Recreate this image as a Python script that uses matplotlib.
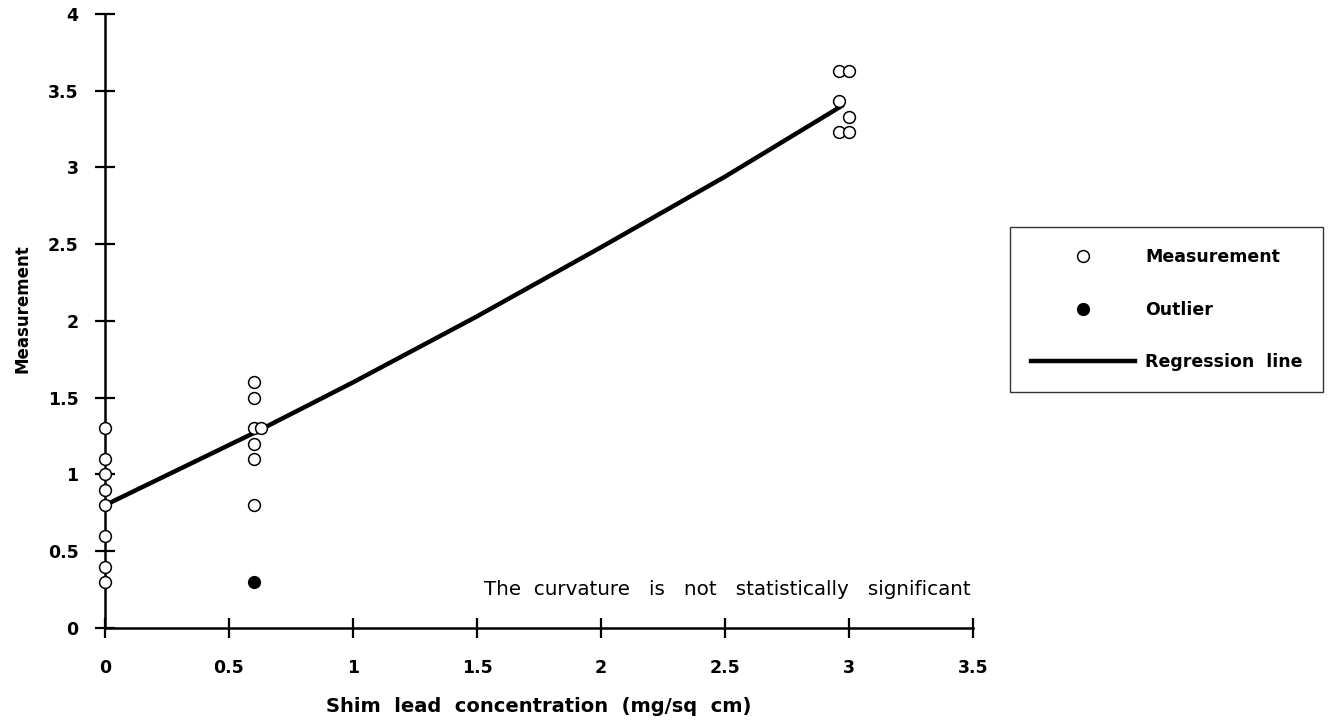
import matplotlib.pyplot as plt

plt.rcParams['font.family'] = ['DejaVu Sans']

# measurements at each shim lead concentration
x_meas = [0, 0, 0, 0, 0, 0, 0, 0,
          0.6, 0.6, 0.6, 0.63, 0.6, 0.6, 0.6,
          2.96, 3.0, 2.96, 3.0, 2.96, 3.0]
y_meas = [1.3, 1.1, 1.0, 0.9, 0.8, 0.6, 0.4, 0.3,
          1.6, 1.5, 1.3, 1.3, 1.2, 1.1, 0.8,
          3.63, 3.63, 3.43, 3.33, 3.23, 3.23]

x_out = [0.6]
y_out = [0.3]

# fitted curve
x_fit = [0, 0.6, 1.0, 1.5, 2.0, 2.5, 2.97]
y_fit = [0.8, 1.27, 1.6, 2.03, 2.48, 2.94, 3.4]

xticks = [0, 0.5, 1, 1.5, 2, 2.5, 3, 3.5]
yticks = [0, 0.5, 1, 1.5, 2, 2.5, 3, 3.5, 4]

fig = plt.figure(figsize=(13.29, 7.28), dpi=100)
ax = fig.add_axes([0.079, 0.1374, 0.6531, 0.8434])

ax.plot(x_fit, y_fit, color='black', lw=3.2, label='Regression  line', zorder=2)
ax.plot(x_meas, y_meas, 'o', mfc='white', mec='black', mew=1.1, ms=8.5,
        label='Measurement', zorder=3)
ax.plot(x_out, y_out, 'o', color='black', ms=8.5, label='Outlier', zorder=3)

ax.set_xlim(0, 3.5)
ax.set_ylim(0, 4)
ax.set_xticks(xticks)
ax.set_yticks(yticks)
ax.set_xticklabels([f'{t:g}' for t in xticks])
ax.set_yticklabels([f'{t:g}' for t in yticks])
for s in ['top', 'right']:
    ax.spines[s].set_visible(False)
for s in ['left', 'bottom']:
    ax.spines[s].set_linewidth(1.8)
ax.tick_params(direction='inout', length=14, width=1.6, labelsize=12.5)
ax.tick_params(axis='x', pad=15)
ax.tick_params(axis='y', pad=12)
for lab in ax.get_xticklabels() + ax.get_yticklabels():
    lab.set_fontweight('bold')
for ln in ax.lines:
    ln.set_clip_on(False)

ax.set_xlabel('Shim  lead  concentration  (mg/sq  cm)', fontsize=14,
              fontweight='bold', labelpad=15)
ax.set_ylabel('Measurement', fontsize=12, fontweight='bold')
ax.yaxis.set_label_coords(-0.085, 0.52)

ax.text(3.49, 0.19, 'The  curvature   is   not   statistically   significant',
        ha='right', va='bottom', fontsize=14.3)

h, l = ax.get_legend_handles_labels()
order = [1, 2, 0]
leg = fig.legend([h[i] for i in order], [l[i] for i in order],
                 loc='upper left', bbox_to_anchor=(0.760, 0.1, 0.2355, 0.588),
                 mode='expand', frameon=True, fancybox=False,
                 edgecolor='black', fontsize=12.5, handlelength=6.0,
                 handletextpad=0.6, labelspacing=2.0, borderpad=1.2,
                 borderaxespad=0)
leg.get_frame().set_linewidth(1.0)
for t in leg.get_texts():
    t.set_fontweight('bold')

fig.savefig('out.png', dpi=100)
